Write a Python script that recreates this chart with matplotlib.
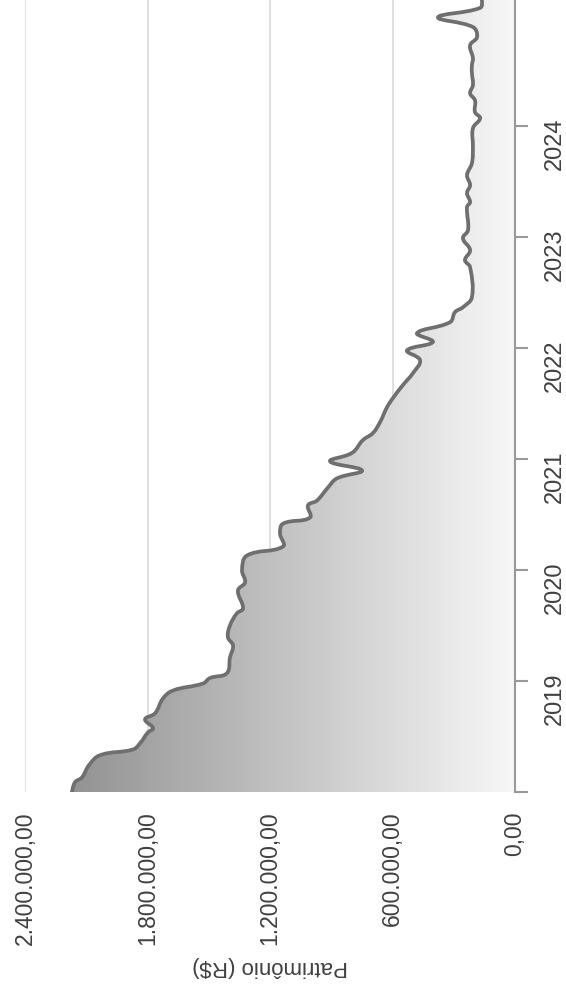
import matplotlib
matplotlib.use("Agg")
import matplotlib.pyplot as plt
import matplotlib.dates as mdates
from matplotlib.path import Path
from matplotlib.patches import PathPatch
import numpy as np
import pandas as pd

# chart is drawn turned a quarter turn: time runs upward, value grows to the left
datas = [
    "2018-01-01", "2018-02-02", "2018-02-18", "2018-03-30", "2018-05-02",
    "2018-05-21", "2018-06-10", "2018-07-16", "2018-07-30", "2018-08-28",
    "2018-09-17", "2018-11-05", "2018-12-01", "2018-12-24", "2019-01-11",
    "2019-01-27", "2019-03-20", "2019-04-28", "2019-05-25", "2019-07-03",
    "2019-08-12", "2019-08-28", "2019-10-26", "2019-11-22", "2020-01-01",
    "2020-02-18", "2020-03-19", "2020-05-01", "2020-06-02", "2020-06-22",
    "2020-08-01", "2020-08-17", "2020-09-29", "2020-10-29", "2020-11-24",
    "2020-12-24", "2021-01-21", "2021-03-04", "2021-03-27", "2021-05-02",
    "2021-06-20", "2021-07-20", "2021-09-01", "2021-10-10", "2021-11-22",
    "2021-12-24", "2022-01-21", "2022-02-19", "2022-03-27", "2022-04-29",
    "2022-05-15", "2022-06-17", "2022-09-24", "2022-10-17", "2022-11-19",
    "2022-12-28", "2023-01-24", "2023-04-10", "2023-04-26", "2023-05-26",
    "2023-06-21", "2023-07-24", "2023-09-01", "2023-10-24", "2023-12-25",
    "2024-01-27", "2024-02-16", "2024-03-26", "2024-04-18", "2024-05-15",
    "2024-06-23", "2024-07-20", "2024-08-12", "2024-09-23", "2024-10-20",
    "2024-11-22", "2024-12-24", "2025-01-24", "2025-02-19", "2025-03-24",
]
patrimonio = [
    2170000, 2155000, 2121000, 2087000, 2033000,
    1871000, 1837000, 1798000, 1773000, 1812000,
    1763000, 1724000, 1675000, 1528000, 1494000,
    1411000, 1396000, 1381000, 1406000, 1396000,
    1362000, 1332000, 1357000, 1322000, 1337000,
    1313000, 1136000, 1151000, 1136000, 1004000,
    1014000, 970000, 916000, 872000, 749000,
    906000, 798000, 745000, 696000, 661000,
    627000, 598000, 549000, 500000, 465000,
    529000, 402000, 480000, 318000, 294000,
    255000, 211000, 220000, 245000, 220000,
    255000, 230000, 235000, 220000, 235000,
    220000, 235000, 211000, 206000, 206000,
    171000, 196000, 196000, 220000, 206000,
    211000, 211000, 206000, 220000, 186000,
    206000, 377000, 171000, 162000, 171000,
]
anos = ["2018", "2019", "2020", "2021", "2022", "2023", "2024"]
anos_rotulos = ["", "2019", "2020", "2021", "2022", "2023", "2024"]
valores_eixo = [0, 600000, 1200000, 1800000, 2400000]

plt.rcParams['font.family'] = ['Liberation Sans', 'DejaVu Sans']

def brl(x):
    s = f"{x:,.2f}"
    return s.replace(",", "X").replace(".", ",").replace("X", ".")

t = mdates.date2num(pd.to_datetime(datas))
v = np.array(patrimonio, dtype=float)

fig = plt.figure(figsize=(5.66, 9.98), dpi=100)
ax = fig.add_axes([25/566, 206/998, 490/566, 792/998])

y0 = mdates.date2num(pd.Timestamp("2018-01-01"))
y1 = mdates.date2num(pd.Timestamp("2025-02-19"))
ax.set_xlim(2400000, 0)
ax.set_ylim(y0, y1)

# smooth curve (cubic bezier, tension 0.4) built in pixel space
pts = ax.transData.transform(np.column_stack([v, t]))
n = len(pts)
cp_in = pts.copy()
cp_out = pts.copy()
tension = 0.4
for i in range(1, n - 1):
    p0, p1, p2 = pts[i - 1], pts[i], pts[i + 1]
    d01 = np.hypot(*(p1 - p0))
    d12 = np.hypot(*(p2 - p1))
    tot = d01 + d12
    fa = tension * d01 / tot
    fb = tension * d12 / tot
    cp_in[i] = p1 - fa * (p2 - p0)
    cp_out[i] = p1 + fb * (p2 - p0)
verts = [pts[0]]
codes = [Path.MOVETO]
for i in range(n - 1):
    verts += [cp_out[i], cp_in[i + 1], pts[i + 1]]
    codes += [Path.CURVE4] * 3
inv = ax.transData.inverted()
verts = inv.transform(np.array(verts))
linha = Path(verts, codes)

# closed area down to zero for the gradient clip
area_verts = np.vstack([verts, [[0, t[-1]], [0, t[0]], verts[0]]])
area_codes = codes + [Path.LINETO, Path.LINETO, Path.CLOSEPOLY]
area = Path(area_verts, area_codes)

vals = np.linspace(0, 2400000, 256)
g = np.clip(0.97 - vals / 2200000 * 0.40, 0, 1)
img = np.dstack([g, g, g]).reshape(1, -1, 3)
im = ax.imshow(img, extent=[0, 2400000, y0, y1], aspect='auto',
               origin='lower', interpolation='bilinear', zorder=1)
im.set_clip_path(area, transform=ax.transData)

ax.add_patch(PathPatch(linha, facecolor='none', edgecolor='#6f6f6f',
                       lw=2.7, joinstyle='round', capstyle='round', zorder=3))

ax.set_xlim(2400000, 0)
ax.set_ylim(y0, y1)

# value axis (bottom)
ax.set_xticks(valores_eixo)
ax.set_xticklabels([brl(x) for x in valores_eixo])
ax.xaxis.grid(True, color='#e0e0e0', lw=1.4)
ax.set_axisbelow(True)
ax.tick_params(axis='x', length=0, pad=14, labelsize=16.5,
               labelcolor='#404040', labelrotation=90)
ax.set_xlabel("Patrimônio (R$)", rotation=180, fontsize=16,
              color='#404040', labelpad=8)

# time axis (right)
ax.yaxis.tick_right()
ax.set_yticks([mdates.date2num(pd.Timestamp(a + "-01-01")) for a in anos])
ax.set_yticklabels(anos_rotulos)
ax.tick_params(axis='y', direction='out', length=9, width=1.5,
               color='#999999', pad=12, labelsize=17,
               labelcolor='#404040', labelrotation=90)

for s in ["top", "left", "bottom"]:
    ax.spines[s].set_visible(False)
ax.spines["right"].set_color('#999999')
ax.spines["right"].set_linewidth(1.5)

fig.savefig("out.png", dpi=100)
